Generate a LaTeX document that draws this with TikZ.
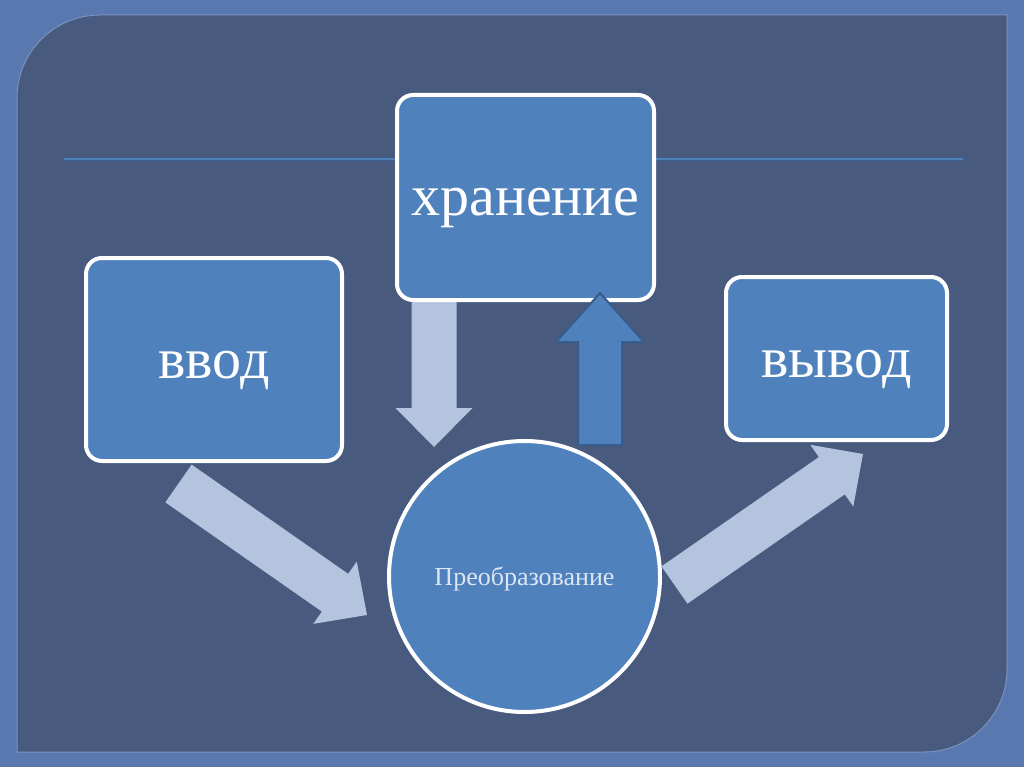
\documentclass[tikz,border=0pt]{standalone}
\usepackage{fontspec}
\setmainfont{Liberation Serif}
\usetikzlibrary{calc}
\definecolor{frame}{HTML}{5A78B0}
\definecolor{panel}{HTML}{485A7E}
\definecolor{panelrim}{HTML}{7A92C0}
\definecolor{boxblue}{HTML}{4F81BD}
\definecolor{boxline}{HTML}{385D8A}
\definecolor{pale}{HTML}{B4C4DF}
\definecolor{proctext}{HTML}{DCE6F2}
\tikzset{
  blok/.style={draw=white, line width=4pt, fill=boxblue, rounded corners=16pt, inner sep=0pt,
    text height=37pt, text depth=0pt, text=white, font=\fontsize{58}{60}\selectfont},
  krug/.style={circle, draw=white, line width=4pt, fill=boxblue, minimum size=271pt, inner sep=0pt,
    text depth=0pt, text=proctext, font=\fontsize{26}{28}\selectfont},
  pale arrow/.style={fill=pale},
  dark arrow/.style={fill=boxblue, draw=boxline, line width=2pt, line join=miter}
}
% style, tail, tip, half shaft, half head, head length
\newcommand{\blockarrow}[6]{%
  \coordinate (ba) at ($(#3)!#6!(#2)$);
  \path[#1] ($(#2)!#4!90:(#3)$) -- ($(ba)!#4!90:(#3)$) -- ($(ba)!#5!90:(#3)$) -- (#3)
    -- ($(ba)!#5!-90:(#3)$) -- ($(ba)!#4!-90:(#3)$) -- ($(#2)!#4!-90:(#3)$) -- cycle;}

\begin{document}
\begin{tikzpicture}[x=1pt,y=-1pt]
        \useasboundingbox (0,0) rectangle (1024,767);
        \fill[frame] (0,0) rectangle (1024,767);
        \filldraw[fill=panel, draw=panelrim, line width=1pt] (17,752) -- (17,98) to[out=90,in=180] (100,15)
          -- (1007,15) -- (1007,669) to[out=-90,in=0] (924,752) -- cycle;
        \draw[boxblue, line width=2pt] (64,159) -- (963,159);
        \draw[boxline, line width=0.8pt] (64,160.5) -- (963,160.5);
        \coordinate (a1) at (178.5,483.5);%vvod tail
        \coordinate (a2) at (367,615);%vvod tip
        \coordinate (d1) at (674.5,585);%vyvod tail
        \coordinate (d2) at (863,454);%vyvod tip
        \coordinate (b1) at (434,300);%down tail
        \coordinate (b2) at (434,447);%down tip
        \coordinate (c1) at (600,445);%up tail
        \coordinate (c2) at (600,293);%up tip
        \blockarrow{pale arrow}{b1}{b2}{22.5pt}{38.5pt}{39pt}
        \blockarrow{pale arrow}{a1}{a2}{23pt}{38pt}{39pt}
        \blockarrow{pale arrow}{d1}{d2}{22.7pt}{37.6pt}{38pt}
        \node[blok, minimum width=256pt, minimum height=203pt] (A) at (214,359.5) {ввод};%input
        \node[blok, minimum width=257pt, minimum height=205pt] (B) at (525.5,197.5) {хранение};%storage
        \node[krug] (C) at (524.5,576.5) {Преобразование};%process
        \node[blok, minimum width=221pt, minimum height=163pt] (D) at (836.5,358.5) {вывод};%output
        \blockarrow{dark arrow}{c1}{c2}{22pt}{44pt}{49pt}
\end{tikzpicture}
\end{document}
